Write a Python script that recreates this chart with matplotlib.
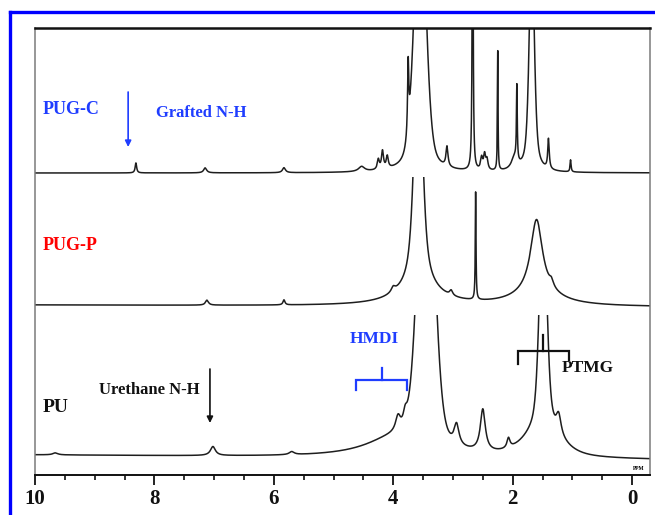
import numpy as np
import matplotlib
matplotlib.use("Agg")
import matplotlib.pyplot as plt
from matplotlib.lines import Line2D
from matplotlib.patches import Rectangle
from matplotlib.ticker import MultipleLocator

# ---------------- data ----------------
# chemical shift axis (ppm)
tick_values = [10, 8, 6, 4, 2, 0]
tick_labels = ["10", "8", "6", "4", "2", "0"]
sample_names = ["PUG-C", "PUG-P", "PU"]

# PUG-C peaks: centre (ppm), height, half width (ppm), lorentz fraction
pugc_center = [8.31, 7.15, 5.83, 4.53, 4.25, 4.18, 4.10, 3.55, 3.75, 3.10, 2.67,
               2.52, 2.47, 2.43, 2.25, 1.97, 1.93, 1.68, 1.40, 1.03]
pugc_height = [10, 5, 5, 5, 10, 18, 12, 300, 70, 20, 400,
               12, 15, 10, 120, 12, 75, 232, 30, 12]
pugc_width = [0.015, 0.03, 0.03, 0.06, 0.02, 0.02, 0.02, 0.11, 0.012, 0.02, 0.008,
              0.02, 0.02, 0.02, 0.006, 0.06, 0.008, 0.05, 0.015, 0.01]
pugc_eta = [1, 1, 1, 1, 1, 1, 1, 0.4, 1, 1, 1,
            1, 1, 1, 1, 1, 1, 0.6, 1, 1]
pugc_base = [302, 302]

# PUG-P peaks
pugp_center = [7.12, 5.83, 4.00, 3.58, 3.58, 3.03, 2.62, 1.60, 1.60, 1.35]
pugp_height = [5, 5, 5, 258, 18, 5, 108, 74, 12, 6]
pugp_width = [0.03, 0.02, 0.04, 0.08, 0.40, 0.03, 0.007, 0.12, 0.45, 0.04]
pugp_eta = [1, 1, 1, 0.7, 1, 1, 1, 1, 1, 1]
pugp_base = [170, 168]

# PU peaks
pu_center = [9.66, 7.02, 5.70, 4.00, 3.92, 3.80, 3.45, 2.94, 2.50, 2.07, 1.49, 1.50, 1.23]
pu_height = [2, 9, 3, 17, 15, 12, 373, 21, 42, 10, 240, 28, 20]
pu_width = [0.05, 0.05, 0.05, 0.60, 0.05, 0.04, 0.15, 0.05, 0.05, 0.03, 0.07, 0.35, 0.05]
pu_eta = [1, 1, 1, 1, 1, 1, 0.3, 1, 1, 1, 0.5, 0.6, 1]
pu_base = [20, 15]

# ---------------- figure ----------------
W, H = 655, 515
fig = plt.figure(figsize=(W / 100, H / 100), dpi=100)
fig.patch.set_facecolor("white")
ax = fig.add_axes([35 / W, 40 / H, 615 / W, 447 / H])

XMAX, XMIN = 10.0, -0.30
ax.set_xlim(XMAX, XMIN)
ax.set_ylim(0, 447)

x = np.linspace(XMIN, XMAX, 8000)


def profile(xx, c, h, w, eta):
    d2 = ((xx - c) / w) ** 2
    return h * (eta / (1 + d2) + (1 - eta) * np.exp(-np.log(2) * d2))


def spectrum(centers, heights, widths, etas, base):
    y = np.interp(x, [XMIN, XMAX], [base[1], base[0]])
    for c, h, w, e in zip(centers, heights, widths, etas):
        y = y + profile(x, c, h, w, e)
    return y


line_kw = dict(color="#1e1e1e", lw=1.1)
clip_tops = [447, 298, 160]
specs = [
    spectrum(pugc_center, pugc_height, pugc_width, pugc_eta, pugc_base),
    spectrum(pugp_center, pugp_height, pugp_width, pugp_eta, pugp_base),
    spectrum(pu_center, pu_height, pu_width, pu_eta, pu_base),
]
for y, top in zip(specs, clip_tops):
    ln, = ax.plot(x, y, **line_kw)
    rect = Rectangle((XMIN, 0), XMAX - XMIN, top, transform=ax.transData)
    ln.set_clip_path(rect)

# spines / axis
for s in ["left", "right"]:
    ax.spines[s].set_color("#7a7a7a")
    ax.spines[s].set_linewidth(1.1)
ax.spines["top"].set_color("#111111")
ax.spines["top"].set_linewidth(1.8)
ax.spines["bottom"].set_color("#111111")
ax.spines["bottom"].set_linewidth(1.4)
ax.set_yticks([])
ax.set_xticks(tick_values)
ax.set_xticklabels(tick_labels)
ax.xaxis.set_minor_locator(MultipleLocator(0.5))
ax.tick_params(axis="x", which="major", direction="out", length=7, width=1.3,
               pad=3, labelsize=15, colors="#111111")
ax.tick_params(axis="x", which="minor", direction="out", length=3.5, width=1.2,
               colors="#111111")
for lab in ax.get_xticklabels():
    lab.set_fontfamily("Liberation Serif")
    lab.set_fontweight("bold")

ax.text(-0.12, 4, "PPM", fontsize=4, ha="center", va="bottom",
        family="Liberation Serif", weight="bold")

# labels
blue = "#1f3dff"
tkw = dict(family="Liberation Serif", weight="bold", ha="center", va="center")
ax.text(9.39, 365, sample_names[0], color=blue, fontsize=13, **tkw)
ax.text(7.22, 362, "Grafted N-H", color=blue, fontsize=12, **tkw)
ax.text(9.41, 230, sample_names[1], color="#ff0000", fontsize=13, **tkw)
ax.text(9.66, 68, sample_names[2], color="#111111", fontsize=14, **tkw)
ax.text(8.09, 85, "Urethane N-H", color="#111111", fontsize=12, **tkw)
ax.text(4.32, 136, "HMDI", color=blue, fontsize=12.5, **tkw)
ax.text(0.75, 107, "PTMG", color="#111111", fontsize=12.5, **tkw)

# arrows
ax.annotate("", xy=(8.44, 328), xytext=(8.44, 383),
            arrowprops=dict(arrowstyle="-|>", color=blue, lw=1.2,
                            mutation_scale=9, shrinkA=0, shrinkB=0))
ax.annotate("", xy=(7.07, 52), xytext=(7.07, 106),
            arrowprops=dict(arrowstyle="-|>", color="#111111", lw=1.2,
                            mutation_scale=9, shrinkA=0, shrinkB=0))

# brackets
ax.plot([4.62, 4.62, 3.77, 3.77], [85, 95, 95, 85], color=blue, lw=1.6,
        solid_joinstyle="miter")
ax.plot([4.19, 4.19], [95, 107], color=blue, lw=1.6)
ax.plot([1.91, 1.91, 1.06, 1.06], [111, 124, 124, 115], color="#111111", lw=1.6,
        solid_joinstyle="miter")
ax.plot([1.49, 1.49], [124, 140], color="#111111", lw=1.6)

# blue frame of the picture
fig.add_artist(Line2D([10 / W, 1], [1 - 12 / H, 1 - 12 / H], transform=fig.transFigure,
                      color="#0000ff", lw=2.4))
fig.add_artist(Line2D([10 / W, 10 / W], [0, 1 - 12 / H], transform=fig.transFigure,
                      color="#0000ff", lw=2.4))

fig.savefig("out.png", dpi=100, facecolor="white")
